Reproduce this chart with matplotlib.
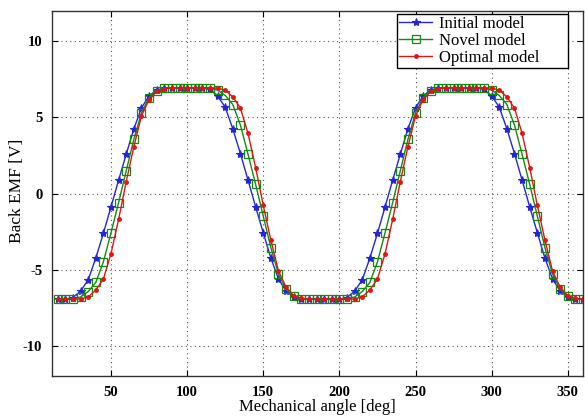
import numpy as np
import matplotlib
matplotlib.use("Agg")
import matplotlib.pyplot as plt

plt.rcParams['font.family'] = ['Liberation Serif', 'DejaVu Serif']
plt.rcParams['axes.unicode_minus'] = False

# mechanical angle [deg], sampled every 5 deg
angle = np.arange(15, 361, 5)

initial_model = [
    -6.95, -6.95, -6.84, -6.42, -5.68, -4.25, -2.62, -0.88, 0.88, 2.58,
    4.25, 5.62, 6.42, 6.80, 6.93, 6.95, 6.95, 6.95, 6.95, 6.95,
    6.84, 6.42, 5.68, 4.25, 2.62, 0.88, -0.88, -2.58, -4.25, -5.62,
    -6.42, -6.80, -6.93, -6.95, -6.95,
    -6.95, -6.95, -6.95, -6.84, -6.42, -5.68, -4.25, -2.62, -0.88, 0.88,
    2.58, 4.25, 5.62, 6.42, 6.80, 6.93, 6.95, 6.95, 6.95, 6.95,
    6.95, 6.84, 6.42, 5.68, 4.25, 2.62, 0.88, -0.88, -2.58, -4.25,
    -5.62, -6.42, -6.80, -6.93, -6.95,
]

novel_model = [
    -6.95, -6.95, -6.93, -6.80, -6.45, -5.85, -4.50, -2.58, -0.60, 1.49,
    3.56, 5.30, 6.30, 6.75, 6.92, 6.95, 6.95, 6.95, 6.95, 6.95,
    6.93, 6.80, 6.45, 5.85, 4.50, 2.58, 0.60, -1.49, -3.56, -5.30,
    -6.30, -6.75, -6.92, -6.95, -6.95,
    -6.95, -6.95, -6.95, -6.93, -6.80, -6.45, -5.85, -4.50, -2.58, -0.60,
    1.49, 3.56, 5.30, 6.30, 6.75, 6.92, 6.95, 6.95, 6.95, 6.95,
    6.95, 6.93, 6.80, 6.45, 5.85, 4.50, 2.58, 0.60, -1.49, -3.56,
    -5.30, -6.30, -6.75, -6.92, -6.95,
]

optimal_model = [
    -6.95, -6.95, -6.95, -6.93, -6.80, -6.35, -5.62, -3.95, -1.70, 0.78,
    3.07, 5.10, 6.16, 6.72, 6.90, 6.95, 6.95, 6.95, 6.95, 6.95,
    6.95, 6.93, 6.80, 6.35, 5.62, 3.95, 1.70, -0.78, -3.07, -5.10,
    -6.16, -6.72, -6.90, -6.95, -6.95,
    -6.95, -6.95, -6.95, -6.95, -6.93, -6.80, -6.35, -5.62, -3.95, -1.70,
    0.78, 3.07, 5.10, 6.16, 6.72, 6.90, 6.95, 6.95, 6.95, 6.95,
    6.95, 6.95, 6.93, 6.80, 6.35, 5.62, 3.95, 1.70, -0.78, -3.07,
    -5.10, -6.16, -6.72, -6.90, -6.95,
]

x_ticks = [50, 100, 150, 200, 250, 300, 350]
y_ticks = [-10, -5, 0, 5, 10]

fig = plt.figure(figsize=(5.85, 4.19), dpi=100)
ax = fig.add_axes([0.089, 0.1026, 0.9076, 0.8711])

ax.plot(angle, initial_model, color='#2525d8', lw=1.0, marker='*',
        ms=6, mew=0.8, label='Initial model')
ax.plot(angle, novel_model, color='#128a12', lw=1.0, marker='s',
        ms=6, mfc='none', mew=0.9, label='Novel model')
ax.plot(angle, optimal_model, color='#e01515', lw=1.0, marker='o',
        ms=2.5, label='Optimal model')

ax.set_xlim(11.3, 360)
ax.set_ylim(-12, 12)
ax.set_xticks(x_ticks)
ax.set_yticks(y_ticks)

ax.grid(True, linestyle=(0, (1, 3)), color='#555555', lw=0.8)
ax.tick_params(direction='in', top=True, right=True, length=4, width=0.8,
               labelsize=10.5, pad=7)
for lab in ax.get_xticklabels() + ax.get_yticklabels():
    lab.set_fontweight('bold')
for sp in ax.spines.values():
    sp.set_color('#333333')
    sp.set_linewidth(1.0)

ax.set_xlabel('Mechanical angle [deg]', fontsize=12, labelpad=0)
ax.set_ylabel('Back EMF [V]', fontsize=12.5)
ax.yaxis.set_label_coords(-0.051, 0.508)

# wide box with empty room on the right, like the original
leg = ax.legend(loc='upper right',
                bbox_to_anchor=(0.6497, 0.84, 0.3223, 0.152),
                mode='expand', fontsize=12, fancybox=False, framealpha=1,
                edgecolor='black', handlelength=2.0, labelspacing=0.05,
                borderpad=0.12, handletextpad=0.4, borderaxespad=0)
leg.get_frame().set_linewidth(1.0)

fig.savefig('out.png', dpi=100)
